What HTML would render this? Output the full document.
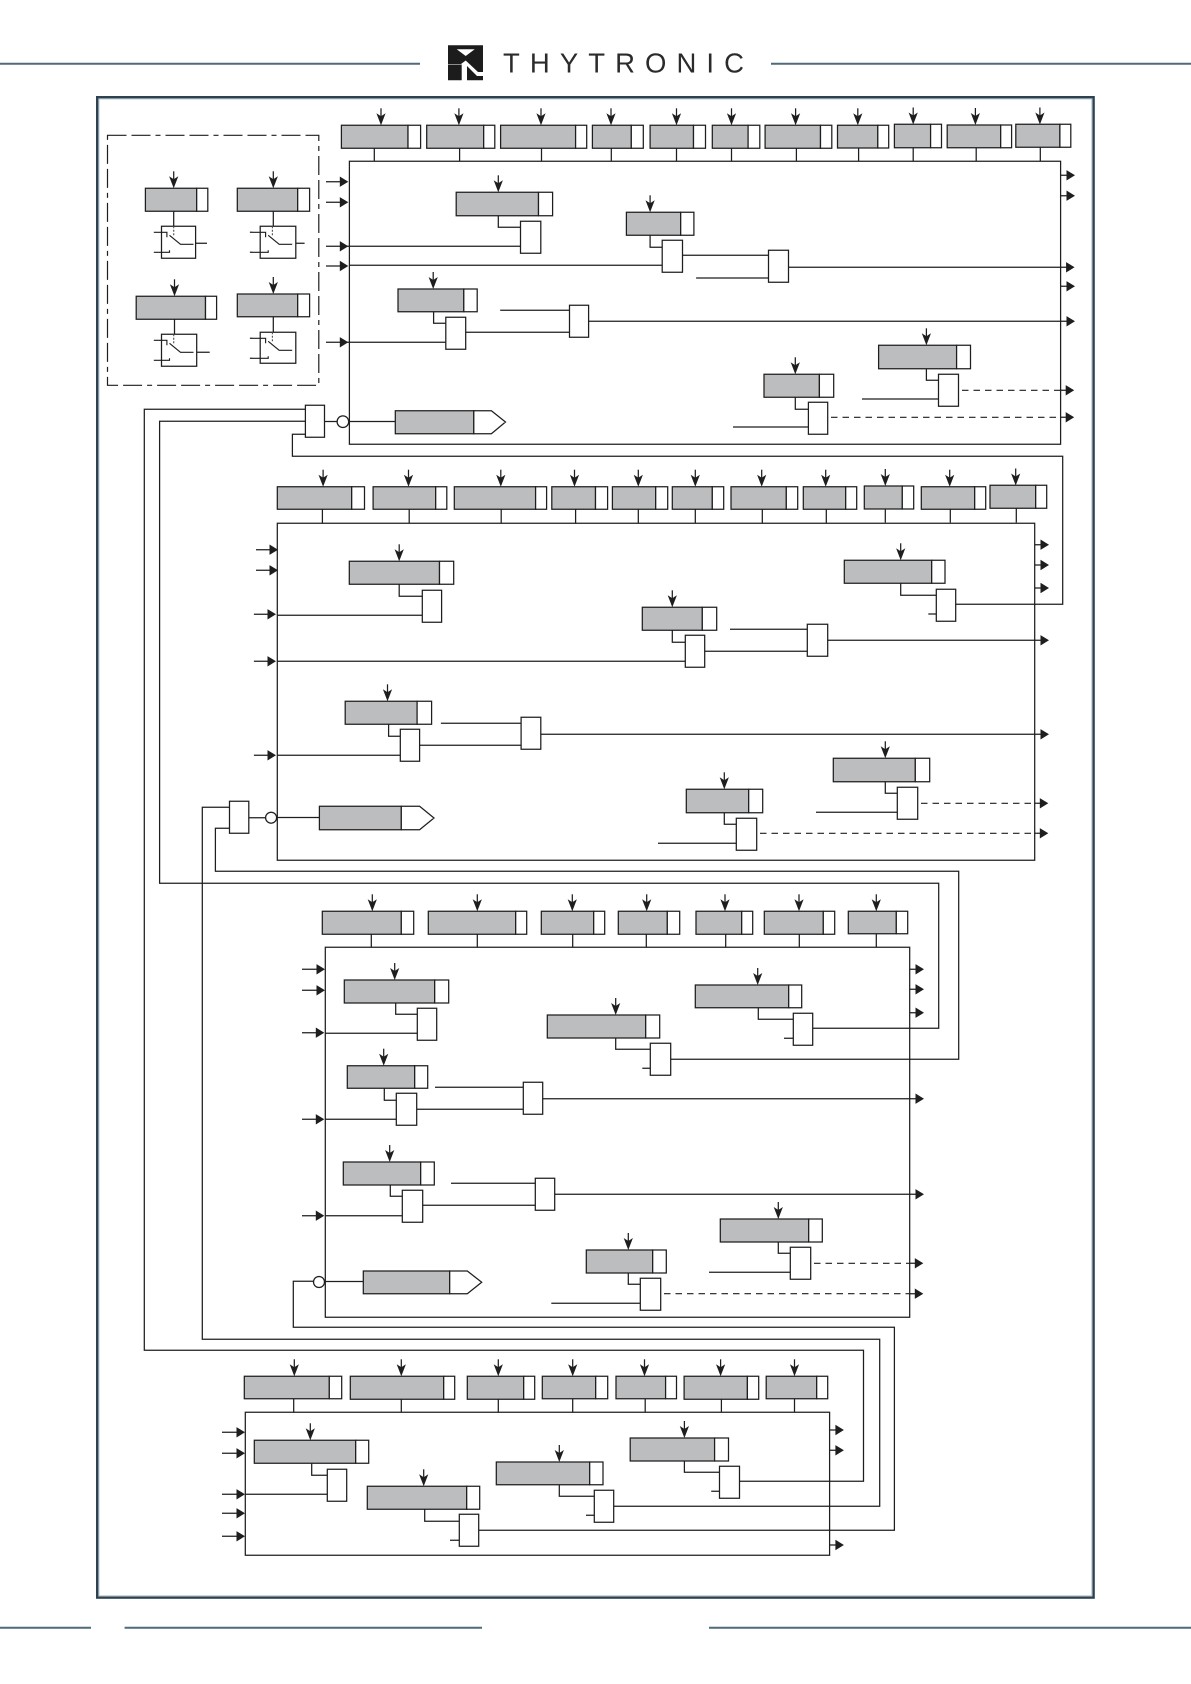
<!DOCTYPE html>
<html><head><meta charset="utf-8"><title>Thytronic diagram</title>
<style>html,body{margin:0;padding:0;background:#fff}svg{display:block}
.l{fill:none;stroke:#1e1e1e;stroke-width:1.25}
.d{fill:none;stroke:#1e1e1e;stroke-width:1.2;stroke-dasharray:6.5 5}
.g{fill:#bcbdbf;stroke:#1e1e1e;stroke-width:1.25}
.w{fill:#fff;stroke:#1e1e1e;stroke-width:1.25}
</style></head><body>
<svg xmlns="http://www.w3.org/2000/svg" width="1191" height="1684" viewBox="0 0 1191 1684">
<defs>
<g id="a"><path d="M0 -17V-6" fill="none" stroke="#1e1e1e" stroke-width="1.25"/><path d="M0 0L-4.6 -12L0 -9L4.6 -12Z" fill="#1e1e1e"/></g>
<path id="r" d="M0 0L-8.5 -5.2V5.2Z" fill="#1e1e1e"/>
<g id="s" fill="none" stroke="#1e1e1e" stroke-width="1.15"><path d="M-7.7 6H5.4V11M8 9L19 18H32M-7.7 26H8V24"/><path d="M12.2 0V9" stroke-dasharray="2 1.5" stroke="#555"/></g>
</defs>
<rect width="1191" height="1684" fill="#fff"/>
<!-- header/footer -->
<path d="M0 63.7H420M771 63.7H1191M0 1627.7H91M124.6 1627.7H482M709 1627.7H1191" fill="none" stroke="#4f6a78" stroke-width="2"/>
<path d="M448 45.3H483V72H478L465.7 60.5L461 64H448ZM456.7 49.3H474.7L465.7 56Z" fill="#1c1c1c" fill-rule="evenodd"/>
<path d="M448 64.5H461.7V80.3H448ZM467 66L477 76H483V80.3H467Z" fill="#1c1c1c"/>
<text x="503" y="72.7" font-family="'Liberation Sans',sans-serif" font-size="27.5" fill="#2b2b2b" textLength="241" lengthAdjust="spacing">THYTRONIC</text>
<!-- frame -->
<rect x="97.2" y="97.2" width="996.4" height="1500.4" fill="none" stroke="#2c4250" stroke-width="2.4"/>
<rect x="99" y="99" width="992.8" height="1496.8" fill="none" stroke="#a9bcc7" stroke-width="0.8"/>
<!-- dash-dot box -->
<rect x="107.5" y="135.3" width="211.3" height="250" fill="none" stroke="#1e1e1e" stroke-width="1.2" stroke-dasharray="19 5 19 5 5 5"/>
<!-- main boxes and all solid lines -->
<path class="l" d="M349.4 161.3H1060.6V444.3H349.4ZM277.3 523.3H1034.7V860.3H277.3ZM325.3 947.3H909.7V1317.3H325.3ZM245.3 1412.3H829.6V1555.3H245.3Z
M374.3 148.3V161.3M459.6 148.3V161.3M541.5 148.3V161.3M611.3 148.3V161.3M676.5 148.3V161.3M731.5 148.3V161.3M796.4 148.3V161.3M858.6 148.3V161.3M913.2 147.7V161.3M976.2 147.7V161.3M1040.3 147.3V161.3
M326 181.7H340.5M326 202.3H340.5M326 246.3H520.5M326 266H340.5M349.4 265.3H662.2M326 342.3H445.8
M173.7 211.3V226.3M273.3 211.3V226.3M174.5 319.3V334.3M273.3 316.7V332.3
M195.6 243.3H207M295.8 243.3H304.6M196.7 352.3H209.7
M249.9 232.3H252.5M249.9 252.3H252.5M249.9 338.3H252.5M249.9 358.3H252.5
M498.3 215.7V227.3H520.5M650.1 235.3V247.3H662.2M682.5 255.3H768.5M696.1 278H768.5M788.5 267.3H1066.6
M1060.6 175.3H1067M1060.6 195.7H1067M1060.6 286.3H1067M433.6 311.7V323.3H445.8M465.7 332.3H569.5M500.2 310.3H569.5M588.6 321.3H1067
M926.4 368.7V380.3H938.5M862 399H938.5M795.3 397.3V409.3H808.4M733 427H808.4M1061 390.3H1066M1061 417.3H1066
M324.5 421.5H337M348.8 421.5H395.3
M305.4 409.3H144.3V1350.3H863.5V1481.3H739.5M305.4 421.3H159.6V883.3H938.7V1028.3H812.7M305.4 434.3H292.4V456.3H1062.7V604.3H955.7
M322.4 509.3V523.3M409.2 509.3V523.3M501.2 509.3V523.3M575.6 509.3V523.3M638.3 509.3V523.3M695.3 509.3V523.3M762.3 509.3V523.3M826.3 509.3V523.3M885.3 509V522.5M950.3 509.3V522.5M1016.3 508.3V522.5
M256 549.7H270M256 570.3H270M253.9 614.3H268M253.9 661.3H268M253.9 755.3H268M277.3 615.3H422.3M277.3 661.3H685.3M277.3 755.3H400.3
M399.2 584.3V596.3H422.3M672.3 630.3V642.3H685.3M704.7 651.3H807.3M730 629.3H807.3M827.7 640.3H1041M1034.7 544.7H1041M1034.7 565H1041M1034.7 588H1041M900.7 583.3V595.3H936.3M928.3 614H936.3
M388.6 724.3V736.3H400.3M419.6 745.3H521.1M440.9 723.3H521.1M540.8 734.3H1041M885.3 781.7V793.3H897.3M816 812.3H897.3M724.3 812.7V824.3H736.3M658 843.3H736.3M1036.7 803.3H1040.5M1036.7 833.3H1040.5
M248.8 817.7H265.6M276.6 817.5H319.4M229.5 807.3H202.3V1339.3H879.7V1506.3H613.7M229.5 828.3H215.4V871.3H958.7V1059.3H670.7
M371.3 934.3V947.3M477.3 934.3V947.3M572.7 934.3V947.3M646.3 934.3V947.3M725.7 934.3V947.3M799.3 934.3V947.3M876.3 933.7V947.3
M302 969.3H317M302 990.3H317M302 1032.7H316M302 1119.3H316M302 1215.7H316M325.3 1033.3H417.3M325.3 1119.3H396.3M325.3 1215.7H402.3
M909.7 969.3H916M909.7 989.3H916M909.7 1012.7H916M395.7 1003V1014.3H417.3M615.7 1038V1049.3H650.3M642.3 1068.3H650.3M758.3 1007.7V1019.3H793.3M784 1038.3H793.3
M384.3 1088.3V1100.3H396.3M416.7 1109.3H523.3M435 1087.3H523.3M542.7 1098.7H916M390.3 1185V1196.3H402.3M422.7 1205.3H535.3M451 1183.3H535.3M554.7 1194.3H916
M628.3 1273V1284.3H640.3M551.3 1303.3H640.3M778.3 1242V1253.3H790.3M709 1272.3H790.3M325.3 1281.5H363.3M313.5 1281.3H293.3V1327.3H894.4V1530.3H478.7
M293.7 1398.7V1412.3M401.3 1399.3V1412.3M498.3 1399.3V1412.3M572.7 1398.7V1412.3M645.2 1398.7V1412.3M721.4 1399.3V1412.3M794.5 1398.7V1412.3
M222 1432.3H237M222 1453.3H237M222 1494.3H237M222 1513.3H237M222 1536.3H237M245.3 1494.3H327.3M829.6 1430H836M829.6 1450.3H836M829.6 1545H836
M311.7 1463.3V1475.3H327.3M424.7 1509.3V1521.3H459.3M450 1540.3H459.3M559.3 1484.7V1496.3H594.3M586 1515.3H594.3M684.4 1461V1472.3H719.5M711.2 1491.3H719.5"/>
<!-- dashed -->
<path class="d" d="M962 390.3H1061M831 417.3H1061M921 803.3H1034.7M760 833.3H1034.7M814 1263.3H910M664 1293.7H910"/>
<!-- gray sections -->
<path class="g" d="M341.4 125.3H408V148.3H341.4ZM426.7 125.3H483.7V148.3H426.7ZM500.6 125.3H575.6V148.3H500.6ZM592.4 125.3H631.3V148.3H592.4ZM650.1 125.3H693.5V148.3H650.1ZM712.3 125.3H748.1V148.3H712.3ZM765.1 125.3H820.5V148.3H765.1ZM837.5 125.3H877.8V148H837.5ZM894.4 124.3H930.6V147.7H894.4ZM947.2 125H1000.7V147.7H947.2ZM1015.8 124.3H1059.9V147.3H1015.8Z
M145.4 188.3H196.7V211.3H145.4ZM237.3 188.3H297.7V211.3H237.3ZM136.2 296.3H205.5V319.3H136.2ZM237.3 294H297.7V316.7H237.3Z
M456.2 192.3H538.5V215.7H456.2ZM626.4 212.3H680.7V235.3H626.4ZM398 289H463.8V311.7H398ZM878.6 345.3H956.6V368.7H878.6ZM764 374.3H819.4V397.3H764ZM395.3 410.7H473.8V433.7H395.3Z
M277.3 486.7H351.7V509.3H277.3ZM373.1 486.7H435.7V509.3H373.1ZM454.3 486.7H535.6V509.3H454.3ZM551.8 486.7H595.5V509.3H551.8ZM612.4 486.7H655.7V509.3H612.4ZM672.3 486.7H712.3V509.3H672.3ZM731 486.7H786.3V509.3H731ZM803.3 486.7H845.7V509.3H803.3ZM864.3 486H902.3V509H864.3ZM921.3 486.7H974.7V509.3H921.3ZM990 485.3H1035.7V508.3H990Z
M349.3 561.3H439.5V584.3H349.3ZM642.3 607.3H702.3V630.3H642.3ZM844.3 560.3H931.7V583.3H844.3ZM345.2 701.3H417.1V724.3H345.2ZM833.3 758.3H915.3V781.7H833.3ZM686.3 789.3H748.7V812.7H686.3ZM319.4 806.3H401.3V829.7H319.4Z
M322.3 911.3H401.3V934.3H322.3ZM428.3 911.3H515.7V934.3H428.3ZM541.3 911.3H593.7V934.3H541.3ZM618.3 911.3H667.3V934.3H618.3ZM696 911.3H741.7V934.3H696ZM764.3 911.3H823.3V934.3H764.3ZM848.3 911.3H896.3V933.7H848.3Z
M344.3 980H434.7V1003H344.3ZM547.3 1015H645.7V1038H547.3ZM695.3 985H788.7V1007.7H695.3ZM347.3 1065.7H414.7V1088.3H347.3ZM343.3 1162H420.7V1185H343.3ZM586.3 1250H652.7V1273H586.3ZM720.3 1219H808.7V1242H720.3ZM363.3 1271H449.7V1293.7H363.3Z
M244.3 1376.3H329.3V1398.7H244.3ZM350.3 1376.3H443.7V1399.3H350.3ZM467.3 1376.3H523.7V1399.3H467.3ZM542.3 1376.3H595.7V1398.7H542.3ZM616 1376.3H665.6V1398.7H616ZM684.1 1376.3H747.4V1399.3H684.1ZM766.2 1376.3H816.7V1398.7H766.2Z
M254.3 1440.3H355.7V1463.3H254.3ZM367.3 1486.3H466.7V1509.3H367.3ZM496.3 1462H589.7V1484.7H496.3ZM630.2 1438H714.6V1461H630.2Z"/>
<!-- white end sections and tag pentagons -->
<path class="w" d="M408 125.3H420.6V148.3H408ZM483.7 125.3H494.8V148.3H483.7ZM575.6 125.3H586.7V148.3H575.6ZM631.3 125.3H643.3V148.3H631.3ZM693.5 125.3H705.5V148.3H693.5ZM748.1 125.3H759.8V148.3H748.1ZM820.5 125.3H831.8V148.3H820.5ZM877.8 125.3H888.7V148H877.8ZM930.6 124.3H941.5V147.7H930.6ZM1000.7 125H1011.6V147.7H1000.7ZM1059.9 124.3H1070.8V147.3H1059.9Z
M196.7 188.3H207.8V211.3H196.7ZM297.7 188.3H309.6V211.3H297.7ZM205.5 296.3H216.6V319.3H205.5ZM297.7 294H309.6V316.7H297.7Z
M538.5 192.3H552.6V215.7H538.5ZM680.7 212.3H693.9V235.3H680.7ZM463.8 289H477.2V311.7H463.8ZM956.6 345.3H970.5V368.7H956.6ZM819.4 374.3H833.7V397.3H819.4ZM473.8 410.7H491.4L505.5 422L491.4 433.7H473.8Z
M351.7 486.7H364.5V509.3H351.7ZM435.7 486.7H446.8V509.3H435.7ZM535.6 486.7H546.6V509.3H535.6ZM595.5 486.7H607.6V509.3H595.5ZM655.7 486.7H667.7V509.3H655.7ZM712.3 486.7H723.7V509.3H712.3ZM786.3 486.7H797.7V509.3H786.3ZM845.7 486.7H856.7V509.3H845.7ZM902.3 486H913.7V509H902.3ZM974.7 486.7H985.7V509.3H974.7ZM1035.7 485.3H1046.7V508.3H1035.7Z
M439.5 561.3H453.7V584.3H439.5ZM702.3 607.3H716.7V630.3H702.3ZM931.7 560.3H945V583.3H931.7ZM417.1 701.3H431.6V724.3H417.1ZM915.3 758.3H929.7V781.7H915.3ZM748.7 789.3H762.7V812.7H748.7ZM401.3 806.3H419.6L434 818L419.6 829.7H401.3Z
M401.3 911.3H413.7V934.3H401.3ZM515.7 911.3H526.7V934.3H515.7ZM593.7 911.3H604.7V934.3H593.7ZM667.3 911.3H679.7V934.3H667.3ZM741.7 911.3H752.7V934.3H741.7ZM823.3 911.3H834.7V934.3H823.3ZM896.3 911.3H907.7V933.7H896.3Z
M434.7 980H448.7V1003H434.7ZM645.7 1015H659.7V1038H645.7ZM788.7 985H801.7V1007.7H788.7ZM414.7 1065.7H427.7V1088.3H414.7ZM420.7 1162H434.3V1185H420.7ZM652.7 1250H666.3V1273H652.7ZM808.7 1219H822.3V1242H808.7ZM449.7 1271H467.3L481.7 1282.3L467.3 1293.7H449.7Z
M329.3 1376.3H341.7V1398.7H329.3ZM443.7 1376.3H454.7V1399.3H443.7ZM523.7 1376.3H534.7V1399.3H523.7ZM595.7 1376.3H607.7V1398.7H595.7ZM665.6 1376.3H676.5V1398.7H665.6ZM747.4 1376.3H758.7V1399.3H747.4ZM816.7 1376.3H827.7V1398.7H816.7Z
M355.7 1440.3H368.7V1463.3H355.7ZM466.7 1486.3H479.7V1509.3H466.7ZM589.7 1462H603V1484.7H589.7ZM714.6 1438H728.5V1461H714.6Z"/>
<!-- logic blocks -->
<path class="w" d="M161.5 226.3H195.6V258.3H161.5ZM260.2 226.3H295.8V258.3H260.2ZM161.5 334.3H196.7V366.3H161.5ZM260.2 332.3H295.8V363.3H260.2Z
M520.5 221.3H540.8V253.3H520.5ZM662.2 240.3H682.5V272.3H662.2ZM768.5 250.3H788.5V282.3H768.5ZM445.8 317.3H465.7V349.3H445.8ZM569.5 305.3H588.6V337.3H569.5ZM938.5 374.3H958.5V406.3H938.5ZM808.4 402.3H827.7V434.3H808.4ZM305.4 405.3H324.5V437.3H305.4Z
M422.3 590.3H441.6V622.3H422.3ZM685.3 635.3H704.7V667.3H685.3ZM807.3 624.3H827.7V656.3H807.3ZM936.3 589.3H955.7V621.3H936.3ZM400.3 729.3H419.6V761.3H400.3ZM521.1 717.3H540.8V749.3H521.1ZM897.3 787.3H917.7V819.3H897.3ZM736.3 818.3H756.7V850.3H736.3ZM229.5 801.3H248.8V833.3H229.5Z
M417.3 1008.3H436.7V1040.3H417.3ZM650.3 1043.3H670.7V1075.3H650.3ZM793.3 1013.3H812.7V1045.3H793.3ZM396.3 1093.3H416.7V1125.3H396.3ZM523.3 1082.3H542.7V1114.3H523.3ZM402.3 1190.3H422.7V1222.3H402.3ZM535.3 1178.3H554.7V1210.3H535.3ZM640.3 1278.3H660.7V1310.3H640.3ZM790.3 1247.3H810.7V1279.3H790.3Z
M327.3 1469.3H346.7V1501.3H327.3ZM459.3 1514.3H478.7V1546.3H459.3ZM594.3 1490.3H613.7V1522.3H594.3ZM719.5 1466.3H739.5V1498.3H719.5Z"/>
<circle class="w" cx="342.9" cy="421.7" r="5.8"/><circle class="w" cx="271.1" cy="817.7" r="5.5"/><circle class="w" cx="319" cy="1282" r="5.5"/>
<!-- switch internals -->
<use href="#s" x="161.5" y="226.3"/><use href="#s" x="260.2" y="226.3"/><use href="#s" x="161.5" y="334.3"/><use href="#s" x="260.2" y="332.3"/>
<!-- down arrows -->
<g>
<use href="#a" x="381" y="125.3"/><use href="#a" x="458.9" y="125.3"/><use href="#a" x="541" y="125.3"/><use href="#a" x="611" y="125.3"/><use href="#a" x="676.5" y="125.3"/><use href="#a" x="731.5" y="125.3"/><use href="#a" x="795.6" y="125.3"/><use href="#a" x="857.8" y="125.3"/><use href="#a" x="913.2" y="124.5"/><use href="#a" x="975.4" y="125"/><use href="#a" x="1039.9" y="124.5"/>
<use href="#a" x="173.7" y="188.3"/><use href="#a" x="273.3" y="188.3"/><use href="#a" x="174.5" y="296.3"/><use href="#a" x="273.3" y="294"/>
<use href="#a" x="498.3" y="192.3"/><use href="#a" x="650.1" y="212.3"/><use href="#a" x="433.2" y="289"/><use href="#a" x="926.4" y="345.3"/><use href="#a" x="795.3" y="374.3"/>
<use href="#a" x="323.1" y="486.7"/><use href="#a" x="408.5" y="486.7"/><use href="#a" x="500.8" y="486.7"/><use href="#a" x="574.5" y="486.7"/><use href="#a" x="638.3" y="486.7"/><use href="#a" x="695.3" y="486.7"/><use href="#a" x="761.7" y="486.7"/><use href="#a" x="825.7" y="486.7"/><use href="#a" x="885.3" y="486"/><use href="#a" x="949.7" y="486.7"/><use href="#a" x="1015.7" y="485.5"/>
<use href="#a" x="399.2" y="561.3"/><use href="#a" x="672.3" y="607.3"/><use href="#a" x="900.7" y="560.3"/><use href="#a" x="387.5" y="701.3"/><use href="#a" x="885.3" y="758.3"/><use href="#a" x="724.3" y="789.3"/>
<use href="#a" x="372.3" y="911.3"/><use href="#a" x="477.3" y="911.3"/><use href="#a" x="572.3" y="911.3"/><use href="#a" x="646.7" y="911.3"/><use href="#a" x="725" y="911.3"/><use href="#a" x="799" y="911.3"/><use href="#a" x="876.3" y="911.3"/>
<use href="#a" x="394.7" y="980"/><use href="#a" x="615.7" y="1015"/><use href="#a" x="757.7" y="985"/><use href="#a" x="383.7" y="1065.7"/><use href="#a" x="389.7" y="1162"/><use href="#a" x="628.3" y="1250"/><use href="#a" x="778.3" y="1219"/>
<use href="#a" x="294.3" y="1376.3"/><use href="#a" x="401.3" y="1376.3"/><use href="#a" x="498.3" y="1376.3"/><use href="#a" x="572.7" y="1376.3"/><use href="#a" x="644.5" y="1376.3"/><use href="#a" x="720.6" y="1376.3"/><use href="#a" x="794.5" y="1376.3"/>
<use href="#a" x="310.3" y="1440.3"/><use href="#a" x="423.7" y="1486.3"/><use href="#a" x="559.3" y="1462"/><use href="#a" x="684.4" y="1438"/>
</g>
<!-- right arrowheads -->
<g>
<use href="#r" x="348.3" y="181.7"/><use href="#r" x="348.3" y="202.3"/><use href="#r" x="348.3" y="246.3"/><use href="#r" x="348.3" y="266"/><use href="#r" x="348.3" y="342.3"/>
<use href="#r" x="1075" y="175.3"/><use href="#r" x="1075" y="195.7"/><use href="#r" x="1074.6" y="267.3"/><use href="#r" x="1075" y="286.3"/><use href="#r" x="1075" y="321.3"/><use href="#r" x="1074.2" y="390.3"/><use href="#r" x="1074.2" y="417.3"/>
<use href="#r" x="278" y="549.7"/><use href="#r" x="278" y="570.3"/><use href="#r" x="276" y="614.3"/><use href="#r" x="276" y="661.3"/><use href="#r" x="276" y="755.3"/>
<use href="#r" x="1049" y="544.7"/><use href="#r" x="1049" y="565"/><use href="#r" x="1049" y="588"/><use href="#r" x="1049" y="640.3"/><use href="#r" x="1049" y="734.3"/><use href="#r" x="1048.3" y="803.3"/><use href="#r" x="1048.3" y="833.3"/>
<use href="#r" x="325" y="969.3"/><use href="#r" x="325" y="990.3"/><use href="#r" x="324.3" y="1032.7"/><use href="#r" x="324.3" y="1119.3"/><use href="#r" x="324.3" y="1215.7"/>
<use href="#r" x="924" y="969.3"/><use href="#r" x="924" y="989.3"/><use href="#r" x="924" y="1012.7"/><use href="#r" x="924" y="1098.7"/><use href="#r" x="924" y="1194.3"/><use href="#r" x="923.3" y="1263.3"/><use href="#r" x="923.3" y="1293.7"/>
<use href="#r" x="245" y="1432.3"/><use href="#r" x="245" y="1453.3"/><use href="#r" x="245" y="1494.3"/><use href="#r" x="245" y="1513.3"/><use href="#r" x="245" y="1536.3"/>
<use href="#r" x="843.9" y="1430"/><use href="#r" x="843.9" y="1450.3"/><use href="#r" x="843.9" y="1545"/>
</g>
<path class="l" d="M910 1263.3H916M910 1293.7H916M1034.7 803.3H1036.7M1034.7 833.3H1036.7"/>
</svg>
</body></html>
